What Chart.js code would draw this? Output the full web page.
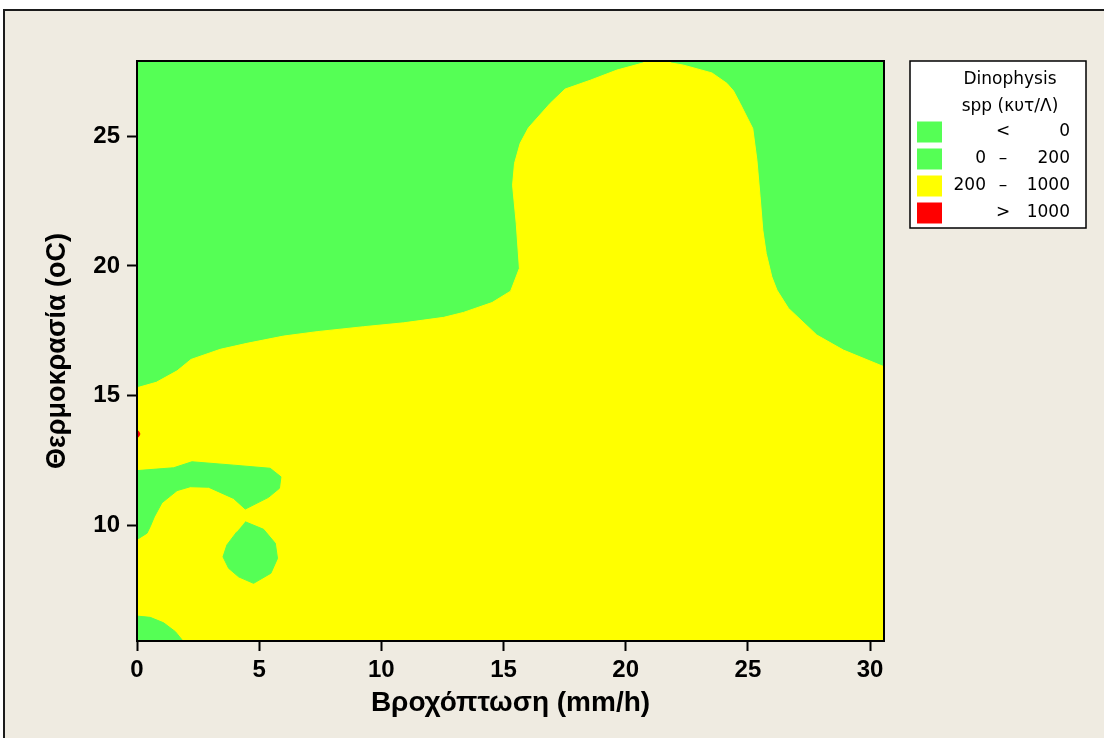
<!DOCTYPE html>
<html>
<head>
<meta charset="utf-8">
<title>Dinophysis spp contour</title>
<script src="https://cdn.jsdelivr.net/npm/chart.js@4.4.1/dist/chart.umd.min.js"></script>
<style>
    html, body { margin: 0; padding: 0; background: #ffffff; overflow: hidden; }
    #frame {
        position: absolute; left: 3px; top: 9px; width: 1200px; height: 800px;
        border: 2px solid #1b1b1b; background: #efebe1;
    }
    #wrap { position: absolute; left: 0; top: 0; width: 1104px; height: 738px; }
</style>
</head>
<body>
<div id="frame"></div>
<div id="wrap"><canvas id="contour" width="1104" height="738"></canvas></div>
<script>
// axis ranges and ticks
const xRange = [0, 30.57];
const yRange = [5.56, 27.89];
const xTickValues = [0, 5, 10, 15, 20, 25, 30];
const yTickValues = [10, 15, 20, 25];

// 200 contour: top edge of the yellow zone, from left border to right border
const contour200Top = [
    [0, 15.31], [0.79, 15.52], [1.64, 15.96], [2.21, 16.40], [3.41, 16.79],
    [4.50, 17.02], [6.00, 17.30], [7.37, 17.47], [9.27, 17.66], [10.91, 17.81],
    [12.55, 18.02], [13.36, 18.21], [14.53, 18.59], [15.29, 19.03], [15.65, 19.91],
    [15.52, 21.64], [15.37, 23.11], [15.45, 23.95], [15.68, 24.72], [16.02, 25.32],
    [16.91, 26.26], [17.52, 26.81], [18.55, 27.15], [19.64, 27.54], [20.73, 27.82],
    [20.75, 28.0], [21.85, 28.0], [21.82, 27.82], [22.37, 27.73], [23.53, 27.43],
    [24.14, 27.03], [24.41, 26.74], [24.68, 26.26], [25.20, 25.29], [25.37, 24.07],
    [25.50, 22.66], [25.61, 21.38], [25.75, 20.48], [25.98, 19.58], [26.19, 19.07],
    [26.66, 18.37], [27.82, 17.34], [28.91, 16.76], [30.57, 16.12],
];

// green (0-200) islands inside the yellow zone
const islandLeftBand = [
    [-0.2, 12.12], [0, 12.12], [1.50, 12.23], [2.25, 12.46], [3.95, 12.33],
    [5.45, 12.21], [5.89, 11.88], [5.83, 11.44], [5.38, 11.09], [4.43, 10.64],
    [3.95, 11.05], [2.93, 11.48], [2.18, 11.50], [1.64, 11.35], [1.02, 10.88],
    [0.71, 10.34], [0.54, 9.96], [0.41, 9.71], [0, 9.47], [-0.2, 9.47],
];
const islandRound = [
    [4.43, 10.15], [5.18, 9.86], [5.66, 9.32], [5.75, 8.74], [5.48, 8.17],
    [4.77, 7.78], [4.16, 8.03], [3.75, 8.36], [3.52, 8.80], [3.68, 9.26],
    [4.09, 9.77],
];
const islandCorner = [
    [-0.2, 6.52], [0, 6.52], [0.54, 6.47], [1.09, 6.26], [1.57, 5.92],
    [1.88, 5.56], [1.95, 5.3], [-0.2, 5.3],
];

// > 1000 spot on the left border
const spotOver1000 = [
    [-0.2, 13.72], [0.06, 13.64], [0.12, 13.53], [0.06, 13.42], [-0.2, 13.34],
];

// legend levels
const legendTitle = ['Dinophysis', 'spp (κυτ/Λ)'];
const levelFrom = ['', '0', '200', ''];
const levelSign = ['<', '–', '–', '>'];
const levelTo = ['0', '200', '1000', '1000'];
const levelColors = ['#55ff55', '#55ff55', '#ffff00', '#ff0000'];

const tickFont = { family: '"Liberation Sans", Arial, sans-serif', size: 24, weight: 'bold' };
const titleFont = { family: '"Liberation Sans", Arial, sans-serif', size: 28, weight: 'bold' };
const legendFont = '17px "DejaVu Sans", Verdana, sans-serif';

function toPoints(pairs) {
    return pairs.map((p) => ({ x: p[0], y: p[1] }));
}

function polygon(pairs, color, order) {
    return {
        data: toPoints(pairs),
        showLine: true,
        fill: 'shape',
        backgroundColor: color,
        borderColor: color,
        borderWidth: 1,
        pointRadius: 0,
        tension: 0,
        order: order,
    };
}

const fullArea = [
    [xRange[0], yRange[0]], [xRange[1], yRange[0]],
    [xRange[1], yRange[1]], [xRange[0], yRange[1]],
];
const yellowZone = [[-0.2, contour200Top[0][1]]]
    .concat(contour200Top)
    .concat([[30.8, contour200Top[contour200Top.length - 1][1]], [30.8, 5.3], [-0.2, 5.3]]);

const plotFrame = {
    id: 'plotFrame',
    afterDatasetsDraw(chart) {
        const { ctx, chartArea } = chart;
        ctx.save();
        ctx.strokeStyle = '#000';
        ctx.lineWidth = 2;
        ctx.strokeRect(chartArea.left, chartArea.top,
            chartArea.right - chartArea.left, chartArea.bottom - chartArea.top);
        ctx.restore();
    },
};

const contourLegend = {
    id: 'contourLegend',
    afterDraw(chart) {
        const { ctx, chartArea } = chart;
        const left = chartArea.right + 26;
        const top = chartArea.top;
        const width = 176;
        const height = 167;
        ctx.save();
        ctx.fillStyle = '#fff';
        ctx.fillRect(left, top, width, height);
        ctx.strokeStyle = '#000';
        ctx.lineWidth = 1.5;
        ctx.strokeRect(left, top, width, height);

        ctx.fillStyle = '#000';
        ctx.font = legendFont;
        ctx.textBaseline = 'middle';
        ctx.textAlign = 'center';
        legendTitle.forEach((line, i) => {
            ctx.fillText(line, left + 100, top + 19 + i * 27);
        });

        levelColors.forEach((color, i) => {
            const cy = top + 71 + i * 27;
            ctx.fillStyle = color;
            ctx.fillRect(left + 7, cy - 10.5, 25, 21);
            ctx.fillStyle = '#000';
            ctx.textAlign = 'right';
            ctx.fillText(levelFrom[i], left + 76, cy);
            ctx.textAlign = 'center';
            ctx.fillText(levelSign[i], left + 93, cy);
            ctx.textAlign = 'right';
            ctx.fillText(levelTo[i], left + 160, cy);
        });
        ctx.restore();
    },
};

new Chart(document.getElementById('contour'), {
    type: 'scatter',
    data: {
        datasets: [
            polygon(fullArea, levelColors[1], 10),
            polygon(yellowZone, levelColors[2], 9),
            polygon(islandLeftBand, levelColors[1], 3),
            polygon(islandRound, levelColors[1], 3),
            polygon(islandCorner, levelColors[1], 3),
            polygon(spotOver1000, levelColors[3], 1),
        ],
    },
    options: {
        responsive: false,
        animation: false,
        events: [],
        layout: { padding: { left: 0, top: 61, right: 220, bottom: 0 } },
        plugins: {
            legend: { display: false },
            tooltip: { enabled: false },
        },
        scales: {
            x: {
                type: 'linear',
                min: xRange[0],
                max: xRange[1],
                afterBuildTicks: (scale) => {
                    scale.ticks = xTickValues.map((v) => ({ value: v }));
                },
                afterFit: (scale) => {
                    scale.height = 97;
                },
                ticks: { color: '#000', font: tickFont, padding: 5, maxRotation: 0, autoSkip: false },
                grid: { drawOnChartArea: false, drawTicks: true, tickLength: 10, tickWidth: 2, tickColor: '#000' },
                border: { display: true, color: '#000', width: 2 },
                title: {
                    display: true,
                    text: 'Βροχόπτωση (mm/h)',
                    color: '#000',
                    font: titleFont,
                    padding: { top: 0, bottom: 18 },
                },
            },
            y: {
                type: 'linear',
                min: yRange[0],
                max: yRange[1],
                afterBuildTicks: (scale) => {
                    scale.ticks = yTickValues.map((v) => ({ value: v }));
                },
                afterFit: (scale) => {
                    scale.width = 137;
                },
                ticks: { color: '#000', font: tickFont, padding: 7, autoSkip: false },
                grid: { drawOnChartArea: false, drawTicks: true, tickLength: 10, tickWidth: 2, tickColor: '#000' },
                border: { display: true, color: '#000', width: 2 },
                title: {
                    display: true,
                    text: 'Θερμοκρασία (oC)',
                    color: '#000',
                    font: { family: titleFont.family, size: 27, weight: 'bold' },
                    padding: { top: 41, bottom: 0 },
                },
            },
        },
    },
    plugins: [plotFrame, contourLegend],
});
</script>
</body>
</html>
